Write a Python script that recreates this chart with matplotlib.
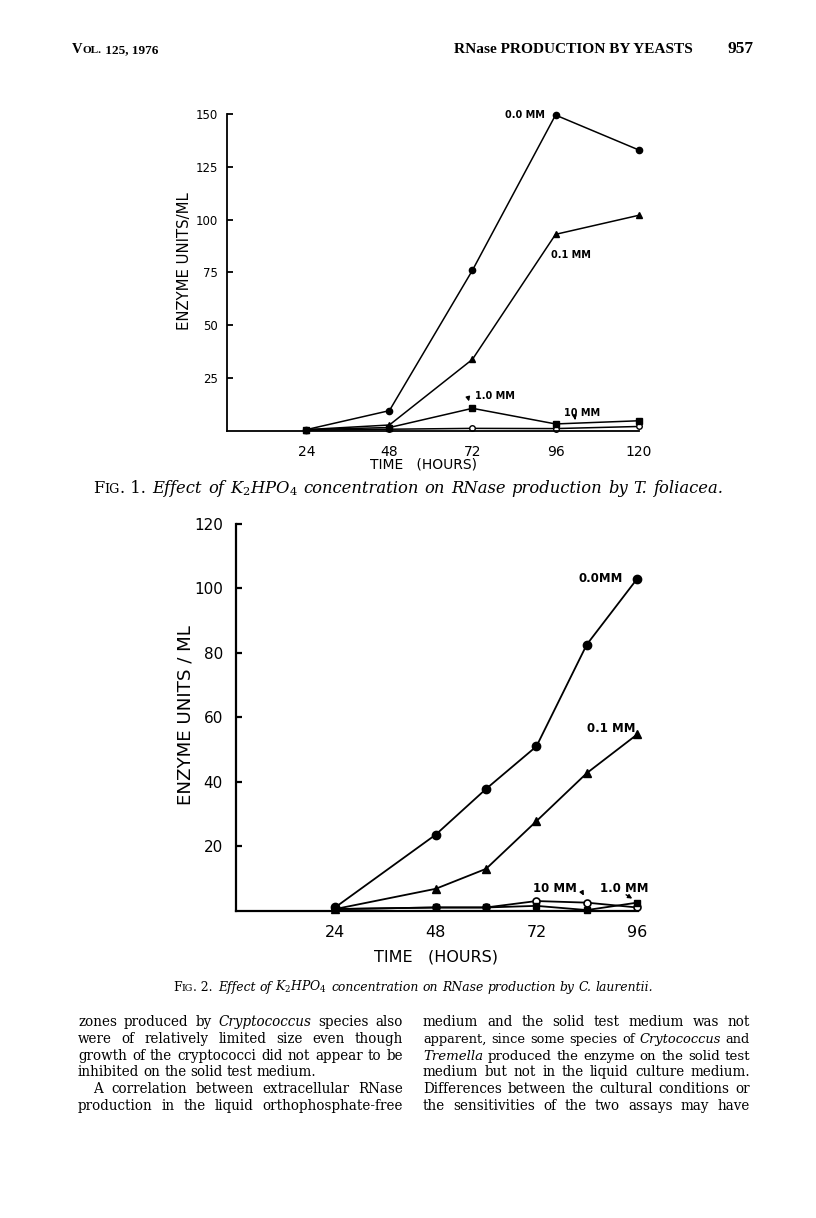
import matplotlib
matplotlib.use("Agg")
import matplotlib.pyplot as plt

# ---- data ----
hours1 = [24, 48, 72, 96, 120]
fig1_00mM = [0.5, 9.5, 76, 149.5, 133]
fig1_01mM = [0.5, 2.7, 33.8, 93, 102]
fig1_10mM = [0.5, 1.5, 10.6, 3.2, 4.7]      # squares ("1.0 mM")
fig1_100mM = [0.2, 0.7, 1.1, 1.0, 2.0]      # open circles ("10 mM")
yticks1 = [25, 50, 75, 100, 125, 150]
xticks1 = [24, 48, 72, 96, 120]

hours2 = [24, 48, 60, 72, 84, 96]
fig2_00mM = [1, 23.6, 37.8, 51, 82.6, 103]
fig2_01mM = [0.5, 6.8, 13, 27.8, 42.7, 54.7]
fig2_10mM = [0.5, 1, 1, 1.5, 0.2, 2.5]      # squares ("1.0 mM")
fig2_100mM = [0.5, 1, 1, 3, 2.5, 1]         # open circles ("10 mM")
yticks2 = [20, 40, 60, 80, 100, 120]
xticks2 = [24, 48, 72, 96]

left_col = [
    "zones produced by *Cryptococcus* species also",
    "were of relatively limited size even though",
    "growth of the cryptococci did not appear to be",
    "inhibited on the solid test medium.",
    "A correlation between extracellular RNase",
    "production in the liquid orthophosphate-free",
]
right_col = [
    "medium and the solid test medium was not",
    "apparent, since some species of *Crytococcus* and",
    "*Tremella* produced the enzyme on the solid test",
    "medium but not in the liquid culture medium.",
    "Differences between the cultural conditions or",
    "the sensitivities of the two assays may have",
]
cap1 = r"Effect of K$_2$HPO$_4$ concentration on RNase production by T. foliacea."
cap2 = r"Effect of K$_2$HPO$_4$ concentration on RNase production by C. laurentii."

W, H = 816, 1218
SANS = "DejaVu Sans"
SERIF = "DejaVu Serif"
plt.rcParams["mathtext.fontset"] = "dejavuserif"

fig = plt.figure(figsize=(W / 100, H / 100), dpi=100)
fig.patch.set_facecolor("white")
renderer = fig.canvas.get_renderer()


def fx(x):
    return x / W


def fy(y):
    return 1 - y / H


def box(l, t, r, b):
    return [fx(l), fy(b), (r - l) / W, (b - t) / H]


def width_of(t):
    return t.get_window_extent(renderer).width


def measure(s, size, **kw):
    t = fig.text(0, 0, s, fontsize=size, **kw)
    w = width_of(t)
    t.remove()
    return w


def fit_size(s, target, size=10, **kw):
    return size * target / measure(s, size, **kw)


def split_words(line, style):
    out = []
    for w in line.split():
        if w.startswith("*"):
            out.append((w.replace("*", ""), "italic"))
        else:
            out.append((w, style))
    return out


def natural(line, size, style="normal"):
    words = split_words(line, style)
    total = sum(measure(w, size, family=SERIF, style=st) for w, st in words)
    return total + (len(words) - 1) * size * 1.389 * 0.30


def justify(line, x0, x1, y, size, fill=True, style="normal"):
    words = split_words(line, style)
    texts = [fig.text(0, fy(y), w, fontsize=size, family=SERIF, style=st,
                      va="baseline") for w, st in words]
    widths = [width_of(t) for t in texts]
    if fill and len(texts) > 1:
        gap = (x1 - x0 - sum(widths)) / (len(texts) - 1)
    else:
        gap = size * 1.389 * 0.30
    x = x0
    for t, w in zip(texts, widths):
        t.set_x(fx(x))
        x += w + gap


def runs(items, x, y, family, weight="normal"):
    for s, size, style in items:
        t = fig.text(fx(x), fy(y), s, fontsize=size, family=family,
                     style=style, weight=weight, va="baseline")
        x += width_of(t)
    return x


def caption(num, text, x0, x1, y):
    # font size chosen so the whole caption fills x0..x1
    base = 9
    pre = measure("F", base, family=SERIF) + measure("IG", base * 0.78, family=SERIF) \
        + measure(". %d." % num, base, family=SERIF) + base * 0.6
    size = base * (x1 - x0) / (pre + natural(text, base, "italic")) * 0.99
    x = runs([("F", size, "normal"), ("IG", size * 0.78, "normal"),
              (". %d." % num, size, "normal")], x0, y, SERIF)
    justify(text, x + size * 0.6, x1, y, size, style="italic")


def style_axes(ax, lw, ylab_size, xlab_size, ypad, xpad):
    for side in ["top", "right"]:
        ax.spines[side].set_visible(False)
    ax.spines["left"].set_linewidth(lw)
    ax.spines["bottom"].set_linewidth(lw)
    ax.tick_params(axis="y", direction="in", length=4, width=lw,
                   labelsize=ylab_size, pad=ypad)
    ax.tick_params(axis="x", length=0, labelsize=xlab_size, pad=xpad)
    ax.patch.set_alpha(0)


# ---- page header ----
hs = fit_size("VOL. 125, 1976", 88, 10, family="Liberation Serif", weight="bold")
runs([("V", hs * 1.1, "normal"), ("OL.", hs * 0.85, "normal"),
      (" 125, 1976", hs, "normal")], 72, 53, "Liberation Serif", weight="bold")
hs = fit_size("RNase PRODUCTION BY YEASTS", 240, 10, family="Liberation Serif",
              weight="bold")
fig.text(fx(454), fy(53), "RNase PRODUCTION BY YEASTS", fontsize=hs,
         family="Liberation Serif", weight="bold", va="baseline")
fig.text(fx(753), fy(53), "957", fontsize=12.5, family="Liberation Serif",
         weight="bold", va="baseline", ha="right")

# ---- figure 1 ----
ax1 = fig.add_axes(box(226.7, 114, 638.6, 430.7))
ax1.set_xlim(1, 120)
ax1.set_ylim(0, 150)
kw1 = dict(color="black", lw=1.1, clip_on=False)
ax1.plot(hours1, fig1_100mM, marker="o", ms=4, mfc="white", mec="black", mew=1, **kw1)
ax1.plot(hours1, fig1_10mM, marker="s", ms=4, mfc="black", **kw1)
ax1.plot(hours1, fig1_01mM, marker="^", ms=4, mfc="black", **kw1)
ax1.plot(hours1, fig1_00mM, marker="o", ms=4.5, mfc="black", **kw1)
ax1.set_yticks(yticks1)
ax1.set_xticks(xticks1)
style_axes(ax1, 1.3, 8.5, 10, 6.3, 10)

lab1 = dict(fontsize=7, family=SANS, weight="bold", va="center")
fig.text(fx(545), fy(115), "0.0 MM", ha="right", **lab1)
fig.text(fx(551), fy(255), "0.1 MM", ha="left", **lab1)
fig.text(fx(475), fy(396), "1.0 MM", ha="left", **lab1)
fig.text(fx(564), fy(413), "10 MM", ha="left", **lab1)
arrow = dict(arrowstyle="-|>", color="black", lw=1.0, mutation_scale=6)
ax1.annotate("", xy=(71.2, 12.6), xytext=(70.5, 17.2), arrowprops=arrow)
ax1.annotate("", xy=(101.8, 3.8), xytext=(101.5, 7.2), arrowprops=arrow)

s = fit_size("ENZYME UNITS/ML", 138, 9, family=SANS)
fig.text(fx(184.6), fy(261), "ENZYME UNITS/ML", rotation=90, ha="center",
         va="center", fontsize=s, family=SANS)
fig.text(fx(423), fy(465), "TIME   (HOURS)", ha="center", va="center",
         fontsize=10, family=SANS)

caption(1, cap1, 93, 723, 493)

# ---- figure 2 ----
ax2 = fig.add_axes(box(236, 524, 638, 910.7))
ax2.set_xlim(0.4, 96.2)
ax2.set_ylim(0, 120)
kw2 = dict(color="black", lw=1.3, clip_on=False)
ax2.plot(hours2, fig2_100mM, marker="o", ms=5, mfc="white", mec="black", mew=1.2, **kw2)
ax2.plot(hours2, fig2_10mM, marker="s", ms=5, mfc="black", **kw2)
ax2.plot(hours2, fig2_01mM, marker="^", ms=5.5, mfc="black", **kw2)
ax2.plot(hours2, fig2_00mM, marker="o", ms=6, mfc="black", **kw2)
ax2.set_yticks(yticks2)
ax2.set_xticks(xticks2)
style_axes(ax2, 1.6, 11, 11.5, 9.4, 10.5)

lab2 = dict(fontsize=8.5, family=SANS, weight="bold", va="center")
fig.text(fx(623), fy(578), "0.0MM", ha="right", **lab2)
fig.text(fx(587), fy(729), "0.1 MM", ha="left", **lab2)
fig.text(fx(533), fy(888), "10 MM", ha="left", **lab2)
fig.text(fx(600), fy(888), "1.0 MM", ha="left", **lab2)
ax2.annotate("", xy=(83.6, 3.9), xytext=(82.6, 6.4), arrowprops=arrow)
ax2.annotate("", xy=(95.4, 3.3), xytext=(92.8, 5.4), arrowprops=arrow)

s = fit_size("ENZYME UNITS / ML", 180, 11, family=SANS)
fig.text(fx(185), fy(715), "ENZYME UNITS / ML", rotation=90, ha="center",
         va="center", fontsize=s, family=SANS)
fig.text(fx(436), fy(957), "TIME   (HOURS)", ha="center", va="center",
         fontsize=11.5, family=SANS)

caption(2, cap2, 173, 653, 991)

# ---- body text, two justified columns ----
baselines = [1026, 1043, 1060, 1076, 1093, 1110]
lines = []
for i, l in enumerate(left_col):
    x0 = 93 if i == 4 else 78
    lines.append((l, x0, 403, baselines[i], i != 3))
for i, l in enumerate(right_col):
    lines.append((l, 423, 750, baselines[i], True))

fits = [10 * (x1 - x0) / natural(l, 10) for l, x0, x1, yb, full in lines if full]
fits.sort()
body = fits[len(fits) // 2] * 0.96
for l, x0, x1, yb, full in lines:
    size = body
    if full:
        size = min(body, 10 * (x1 - x0) / natural(l, 10) * 0.99)
    justify(l, x0, x1, yb, size, fill=full)

fig.savefig("out.png", dpi=100, facecolor="white")
